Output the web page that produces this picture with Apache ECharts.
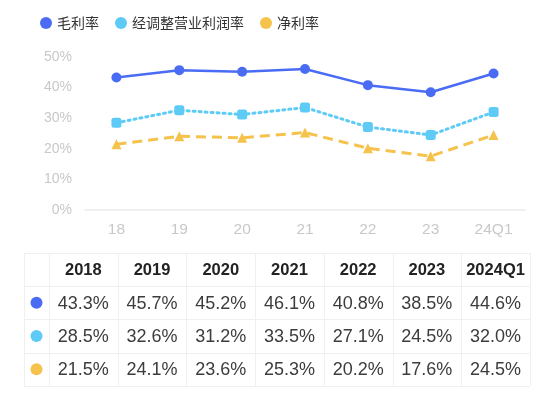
<!DOCTYPE html>
<html><head><meta charset="utf-8">
<script src="https://cdn.jsdelivr.net/npm/echarts@6/dist/echarts.min.js"></script>
<style>html,body{margin:0;padding:0;background:#fff}#c{width:550px;height:393px}</style>
</head><body><div id="c"></div>
<script>
const categories = ['18','19','20','21','22','23','24Q1'];
const tableHeaders = ['2018','2019','2020','2021','2022','2023','2024Q1'];
const seriesNames = ['毛利率','经调整营业利润率','净利率'];
const grossMargin = [43.3,45.7,45.2,46.1,40.8,38.5,44.6];
const adjOpMargin = [28.5,32.6,31.2,33.5,27.1,24.5,32.0];
const netMargin = [21.5,24.1,23.6,25.3,20.2,17.6,24.5];
const colors = ['#4a6cf4','#5ecbf7','#f5c24c'];

const allSeries = [grossMargin, adjOpMargin, netMargin];
const cjk = '"Noto Sans CJK SC",sans-serif';
const latin = '"Liberation Sans","Noto Sans CJK SC",sans-serif';

// table graphics
const tLeft = 24, tTop = 253, firstW = 25, colW = 68.7, rowH = 33.2;
const tRight = tLeft + firstW + colW*7;
const tBottom = tTop + rowH*4;
const g = [];
const lineStyle = {stroke:'#f0f0f0', lineWidth:1};
for (let r=0;r<=4;r++){
  const y = Math.round(tTop + r*rowH)+0.5;
  g.push({type:'line', shape:{x1:tLeft,y1:y,x2:tRight,y2:y}, style:lineStyle, silent:true});
}
for (let c=0;c<=8;c++){
  const x = Math.round(c===0 ? tLeft : tLeft + firstW + (c-1)*colW)+0.5;
  g.push({type:'line', shape:{x1:x,y1:tTop,x2:x,y2:tBottom}, style:lineStyle, silent:true});
}
tableHeaders.forEach((h,i)=>{
  g.push({type:'text', x: tLeft+firstW+colW*(i+0.5), y: tTop+rowH*0.5+1,
    style:{text:h, fill:'#222', font:'bold 16.5px '+latin, align:'center', verticalAlign:'middle'}, silent:true});
});
allSeries.forEach((arr,r)=>{
  g.push({type:'circle', shape:{cx:tLeft+firstW/2, cy:tTop+rowH*(r+1.5), r:6}, style:{fill:colors[r]}, silent:true});
  arr.forEach((v,i)=>{
    g.push({type:'text', x: tLeft+firstW+colW*(i+0.5), y: tTop+rowH*(r+1.5)+1,
      style:{text:v.toFixed(1)+'%', fill:'#3c3c3c', font:'18px '+latin, align:'center', verticalAlign:'middle'}, silent:true});
  });
});

const chart = echarts.init(document.getElementById('c'));
chart.setOption({
  animation:false,
  color: colors,
  legend:{
    left:35, top:11, icon:'circle', itemWidth:12, itemHeight:12, itemGap:16,
    textStyle:{fontSize:14, color:'#333', fontFamily:cjk},
    data: seriesNames
  },
  grid:{left:85, right:25, top:57, bottom:183},
  xAxis:{
    type:'category', data:categories, boundaryGap:true,
    axisLine:{lineStyle:{color:'#eaeaea', width:1.5}},
    axisTick:{show:false},
    axisLabel:{color:'#c8c8c8', fontSize:15.5, margin:12, fontFamily:latin}
  },
  yAxis:{
    type:'value', min:0, max:50, interval:10,
    axisLine:{show:false}, axisTick:{show:false}, splitLine:{show:false},
    axisLabel:{formatter:'{value}%', color:'#c8c8c8', fontSize:14, margin:13, fontFamily:latin}
  },
  series:[
    {name:seriesNames[0], type:'line', data:grossMargin, symbol:'circle', symbolSize:10,
     lineStyle:{width:2.5, color:colors[0]}, itemStyle:{color:colors[0]}},
    {name:seriesNames[1], type:'line', data:adjOpMargin, symbol:'roundRect', symbolSize:10,
     lineStyle:{width:3, type:[2,4], cap:'round', color:colors[1]}, itemStyle:{color:colors[1]}},
    {name:seriesNames[2], type:'line', data:netMargin, symbol:'triangle', symbolSize:10,
     lineStyle:{width:3, type:[10,6], color:colors[2]}, itemStyle:{color:colors[2]}}
  ],
  graphic: g
});
</script></body></html>
